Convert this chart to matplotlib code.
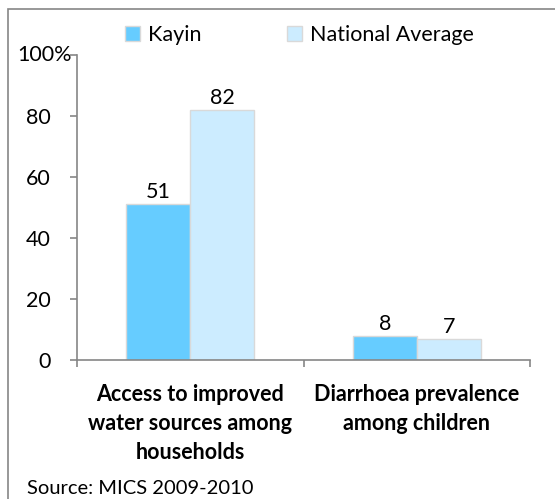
import matplotlib
matplotlib.use('Agg')
import matplotlib.pyplot as plt
import matplotlib.patches as mpatches
import matplotlib.transforms as mtrans
import numpy as np

# data
categories = ['Access to improved\nwater sources among\nhouseholds',
              'Diarrhoea prevalence\namong children']
series_names = ['Kayin', 'National Average']
kayin = [51, 8]
national = [82, 7]
bar_colors = ['#66CCFF', '#CCECFF']
y_ticks = [0, 20, 40, 60, 80, 100]
y_labels = ['0', '20', '40', '60', '80', '']

plt.rcParams['font.family'] = ['Lato', 'DejaVu Sans']
FS = 15.5

fig = plt.figure(figsize=(5.55, 4.99), dpi=100)
ax = fig.add_axes([77/555, 1-360/499, 453/555, 305/499])

x = np.arange(len(categories)) + 0.5
w = 0.283
b1 = ax.bar(x - w/2, kayin, w, color=bar_colors[0], edgecolor='#D9D9D9', linewidth=1.0, label=series_names[0])
b2 = ax.bar(x + w/2, national, w, color=bar_colors[1], edgecolor='#D9D9D9', linewidth=1.0, label=series_names[1])
for bars in (b1, b2):
    for r in bars:
        ax.annotate('%d' % r.get_height(), (r.get_x() + r.get_width()/2, r.get_height()),
                    xytext=(0, 1.5), textcoords='offset points', ha='center', va='bottom',
                    fontsize=FS, color='#000000')

ax.set_xlim(0, 2)
ax.set_ylim(0, 100)
ax.set_xticks([0, 1, 2])
ax.set_xticklabels([])
ax.set_yticks(y_ticks)
ax.set_yticklabels(y_labels, fontsize=FS)
# "100%" sits a bit further right than the other labels
trans = mtrans.blended_transform_factory(ax.transAxes, ax.transData)
ax.text(-0.011, 100, '100%', transform=trans, ha='right', va='center', fontsize=FS)

for xi, lab in zip(x, categories):
    ax.text(xi, -8.0, lab, ha='center', va='top', fontsize=FS, fontweight='bold',
            linespacing=1.45)

for s in ['top', 'right']:
    ax.spines[s].set_visible(False)
for s in ['left', 'bottom']:
    ax.spines[s].set_color('#868686')
    ax.spines[s].set_linewidth(1.2)
ax.tick_params(axis='y', direction='out', length=5, width=1.2, color='#868686', pad=14)
ax.tick_params(axis='x', direction='out', length=5, width=1.2, color='#868686')

handles = [mpatches.Patch(facecolor=c, edgecolor='#D9D9D9', linewidth=1.0) for c in bar_colors]
fig.legend(handles, series_names, loc='upper left', bbox_to_anchor=(125/555, 1-25/499),
           ncol=2, frameon=False, fontsize=FS, handlelength=0.7, handleheight=0.7,
           handletextpad=0.35, columnspacing=4.0, borderpad=0, borderaxespad=0)

fig.text(27/555, 2/499, 'Source: MICS 2009-2010', ha='left', va='bottom', fontsize=FS - 1)

fig.add_artist(mpatches.Rectangle((8/555, -0.1), 1.2, 1.1 - 9.5/499, fill=False,
                                  edgecolor='#868686', linewidth=1.2, transform=fig.transFigure))

fig.savefig('out.png', dpi=100)
